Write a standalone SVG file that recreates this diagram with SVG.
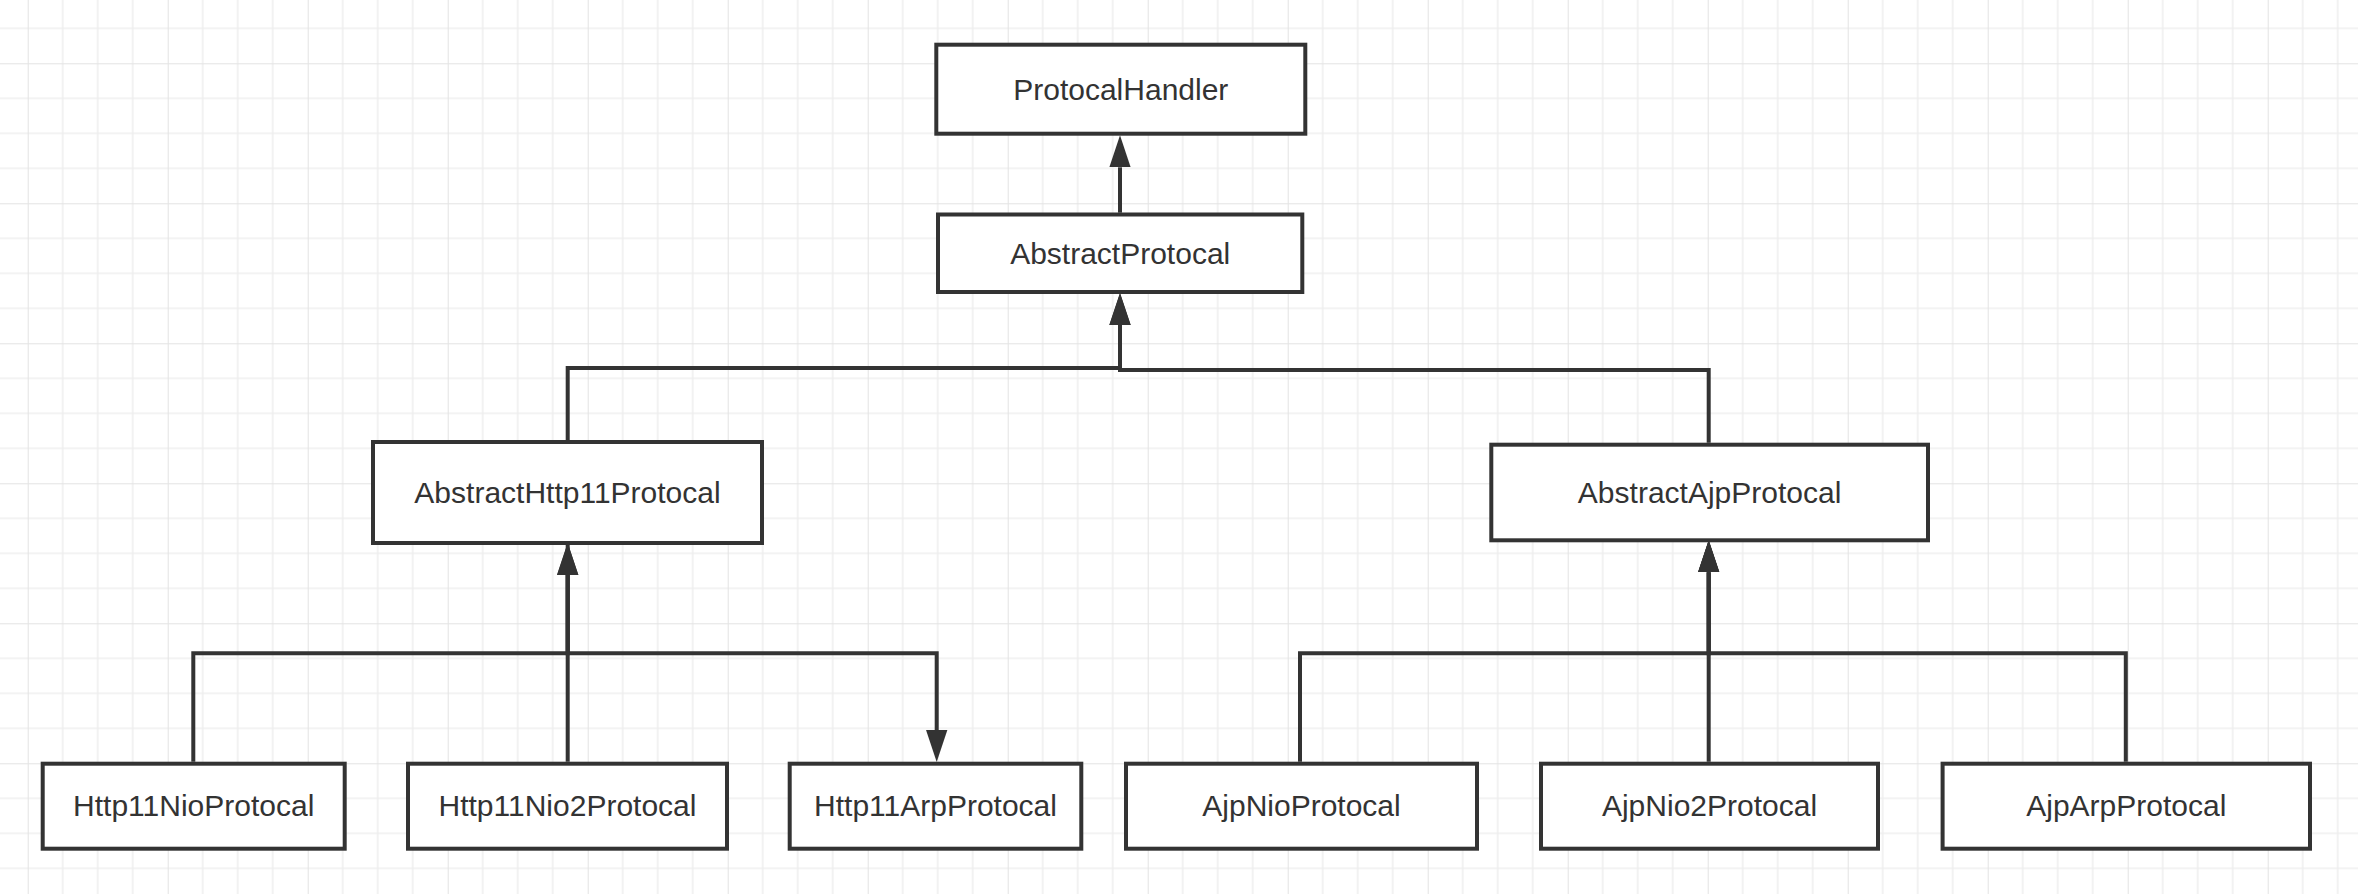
<svg xmlns="http://www.w3.org/2000/svg" width="2358" height="894" viewBox="0 0 2358 894">
<style>
.box{fill:#ffffff;stroke:#333333;stroke-width:4;}
.lbl{font-family:"Liberation Sans",Arial,sans-serif;font-size:30px;fill:#333333;text-anchor:middle;}
.edge{fill:none;stroke:#333333;stroke-width:4;marker-end:url(#arr);}
</style>
<defs>
<pattern id="grid" patternUnits="userSpaceOnUse" x="27.7" y="-76.7" width="140" height="140">
<path d="M35,0V140M70,0V140M105,0V140M0,35H140M0,70H140M0,105H140" stroke="#efefef" stroke-width="1.6" fill="none"/>
<path d="M0,0V140M0,0H140" stroke="#e3e3e3" stroke-width="2" fill="none"/>
</pattern>
<marker id="arr" markerUnits="userSpaceOnUse" markerWidth="32" markerHeight="22" refX="0" refY="10" orient="auto" viewBox="0 0 30 20">
<path d="M0,0L30,10L0,20z" fill="#333333"/>
</marker>
</defs>
<rect width="2358" height="894" fill="#ffffff"/>
<rect width="2358" height="894" fill="url(#grid)"/>
<g id="connectors">
<path class="edge" d="M567.7,545V653.3H936.7V730"/>
<path class="edge" d="M1120,212.7V167.3"/>
<path class="edge" d="M567.7,440V368H1120V325"/>
<path class="edge" d="M1708.7,442.7V370H1120V325"/>
<path class="edge" d="M193.3,761.7V653.3H567.7V575"/>
<path class="edge" d="M567.7,761.7V575"/>
<path class="edge" d="M1300,761.7V653.3H1708.7V572.3"/>
<path class="edge" d="M1708.7,761.7V572.3"/>
<path class="edge" d="M2125.8,761.7V653.3H1708.7V572.3"/>
</g>
<g id="ProtocalHandler"><rect class="box" x="936.3" y="44.7" width="369" height="89"/><text class="lbl" x="1120.8" y="99.5">ProtocalHandler</text></g>
<g id="AbstractProtocal"><rect class="box" x="938" y="214.5" width="364.3" height="77.5"/><text class="lbl" x="1120.2" y="264.3">AbstractProtocal</text></g>
<g id="AbstractHttp11Protocal"><rect class="box" x="373" y="442" width="389" height="101"/><text class="lbl" x="567.5" y="503.3">AbstractHttp11Protocal</text></g>
<g id="AbstractAjpProtocal"><rect class="box" x="1491.3" y="444.7" width="436.7" height="95.6"/><text class="lbl" x="1709.6" y="502.7">AbstractAjpProtocal</text></g>
<g id="Http11NioProtocal"><rect class="box" x="42.7" y="763.7" width="302" height="85"/><text class="lbl" x="193.7" y="816">Http11NioProtocal</text></g>
<g id="Http11Nio2Protocal"><rect class="box" x="408" y="763.7" width="319" height="85"/><text class="lbl" x="567.5" y="816">Http11Nio2Protocal</text></g>
<g id="Http11ArpProtocal"><rect class="box" x="789.7" y="763.7" width="291.6" height="85"/><text class="lbl" x="935.5" y="816">Http11ArpProtocal</text></g>
<g id="AjpNioProtocal"><rect class="box" x="1126" y="763.7" width="351" height="85"/><text class="lbl" x="1301.5" y="816">AjpNioProtocal</text></g>
<g id="AjpNio2Protocal"><rect class="box" x="1541" y="763.7" width="337" height="85"/><text class="lbl" x="1709.5" y="816">AjpNio2Protocal</text></g>
<g id="AjpArpProtocal"><rect class="box" x="1942.6" y="763.7" width="367.4" height="85"/><text class="lbl" x="2126.3" y="816">AjpArpProtocal</text></g>
</svg>
